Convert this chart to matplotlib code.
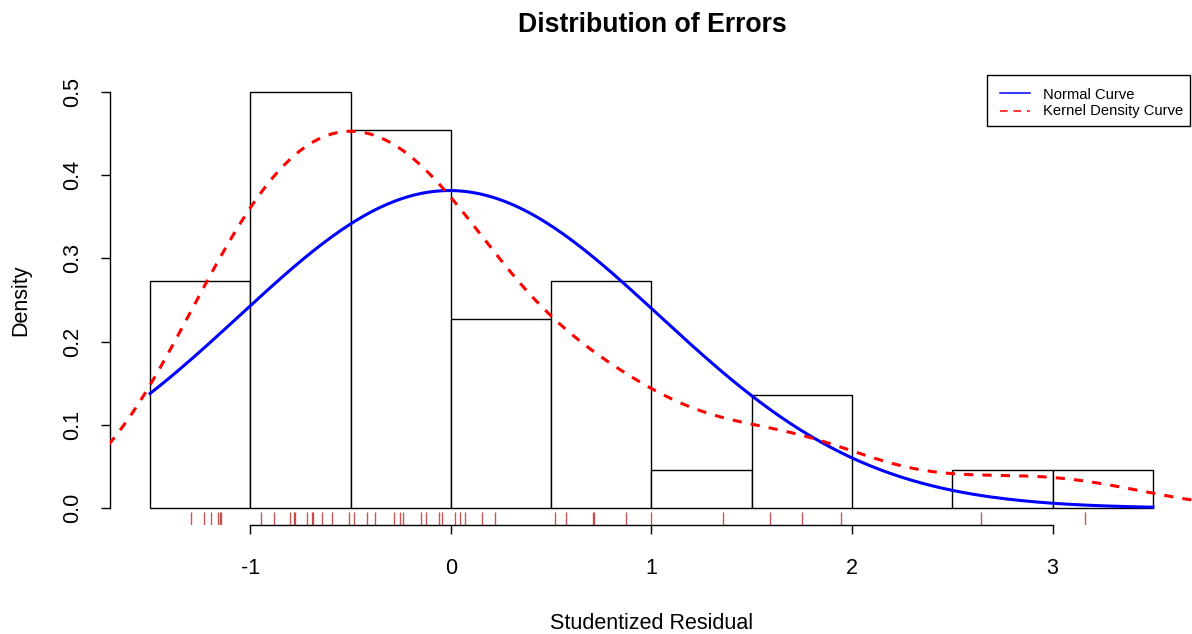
import numpy as np
import matplotlib
matplotlib.use("Agg")
import matplotlib.pyplot as plt
from matplotlib.lines import Line2D
from matplotlib.patches import Rectangle

plt.rcParams['font.family'] = ['Liberation Sans', 'DejaVu Sans']

# Studentized residuals
residuals = [-1.297, -1.231, -1.196, -1.160, -1.151, -1.145,
             -0.948, -0.883, -0.801, -0.785, -0.779, -0.719, -0.692, -0.686,
             -0.643, -0.593, -0.510,
             -0.485, -0.420, -0.379, -0.283, -0.254, -0.241, -0.151, -0.125,
             -0.060, -0.046,
             0.021, 0.045, 0.068, 0.153, 0.219,
             0.520, 0.576, 0.706, 0.712, 0.872, 0.997,
             1.355,
             1.591, 1.749, 1.943,
             2.642,
             3.162]
bin_edges = [-1.5, -1.0, -0.5, 0.0, 0.5, 1.0, 1.5, 2.0, 2.5, 3.0, 3.5]
x_ticks = [-1, 0, 1, 2, 3]
y_ticks = [0.0, 0.1, 0.2, 0.3, 0.4, 0.5]
legend_labels = ["Normal Curve", "Kernel Density Curve"]

r = np.array(residuals)
n = len(r)

W, H = 1192, 634
fig = plt.figure(figsize=(W / 100, H / 100), dpi=100)
ax = fig.add_axes([110 / W, 109 / H, 1083 / W, 450 / H])

# histogram (R-style right-closed bins)
counts = np.zeros(len(bin_edges) - 1)
for v in r:
    for i in range(len(bin_edges) - 1):
        lo, hi = bin_edges[i], bin_edges[i + 1]
        if (lo < v <= hi) or (i == 0 and v == lo):
            counts[i] += 1
            break
widths = np.diff(bin_edges)
dens = counts / (n * widths)
ax.bar(bin_edges[:-1], dens, width=widths, align='edge', facecolor='white',
       edgecolor='black', linewidth=1.0, zorder=1)

# normal curve
m, s = r.mean(), r.std(ddof=1)
xn = np.linspace(bin_edges[0], bin_edges[-1], 200)
yn = np.exp(-0.5 * ((xn - m) / s) ** 2) / (s * np.sqrt(2 * np.pi))
ax.plot(xn, yn, color='blue', linewidth=2.2, zorder=3)

# kernel density (bw.nrd0, gaussian)
q75, q25 = np.percentile(r, [75, 25])
bw = 0.9 * min(s, (q75 - q25) / 1.34) * n ** (-0.2)
xk = np.linspace(r.min() - 3 * bw, r.max() + 3 * bw, 512)
yk = np.exp(-0.5 * ((xk[:, None] - r[None, :]) / bw) ** 2).sum(axis=1) / (n * bw * np.sqrt(2 * np.pi))
ax.plot(xk, yk, color='red', linewidth=2.2, linestyle=(0, (3, 3)), zorder=4)

ax.set_xlim(-1.7, 3.7)
ax.set_ylim(-0.02, 0.52)

# rug
ax.vlines(r, -0.02, -0.02 + 0.03 * 0.54, color='#b01010', alpha=0.7, linewidth=1.0, zorder=2)

for sp in ['top', 'right']:
    ax.spines[sp].set_visible(False)
ax.spines['left'].set_bounds(0, 0.5)
ax.spines['bottom'].set_bounds(-1, 3)
ax.spines['left'].set_linewidth(1.0)
ax.spines['bottom'].set_linewidth(1.0)
ax.set_xticks(x_ticks)
ax.set_xticklabels([str(t) for t in x_ticks])
ax.set_yticks(y_ticks)
ax.set_yticklabels([f"{t:.1f}" for t in y_ticks], rotation=90, va='center')
ax.tick_params(direction='out', length=6.5, width=1.0, labelsize=15.5)
ax.tick_params(axis='x', pad=17)
ax.tick_params(axis='y', pad=12.5)

# axis titles and main title (positioned like R's margins)
fig.text(651.5 / W, 1 - 629 / H, "Studentized Residual", ha='center', va='baseline',
         fontsize=15.5)
fig.text(26 / W, 1 - 300 / H, "Density", ha='center', va='baseline', rotation=90,
         rotation_mode='anchor', fontsize=15.5)
fig.text(652 / W, 1 - 31.5 / H, "Distribution of Errors", ha='center', va='baseline',
         fontsize=19.2, fontweight='bold')

# legend box (R style)
tf = fig.transFigure
fig.patches.append(Rectangle((987 / W, 1 - 126 / H), 203 / W, 51 / H, transform=tf,
                             facecolor='white', edgecolor='black', linewidth=1.0, zorder=10))
fig.add_artist(Line2D([1000 / W, 1030 / W], [1 - 92.5 / H] * 2, transform=tf,
                      color='blue', linewidth=1.1, zorder=11))
fig.add_artist(Line2D([1000 / W, 1030 / W], [1 - 110.5 / H] * 2, transform=tf,
                      color='red', linewidth=1.1, linestyle=(0, (5, 3.8)), zorder=11))
fig.text(1043 / W, 1 - 99 / H, legend_labels[0], ha='left', va='baseline',
         fontsize=10.6, zorder=12)
fig.text(1043 / W, 1 - 115 / H, legend_labels[1], ha='left', va='baseline',
         fontsize=10.6, zorder=12)

fig.savefig("out.png", dpi=100)
